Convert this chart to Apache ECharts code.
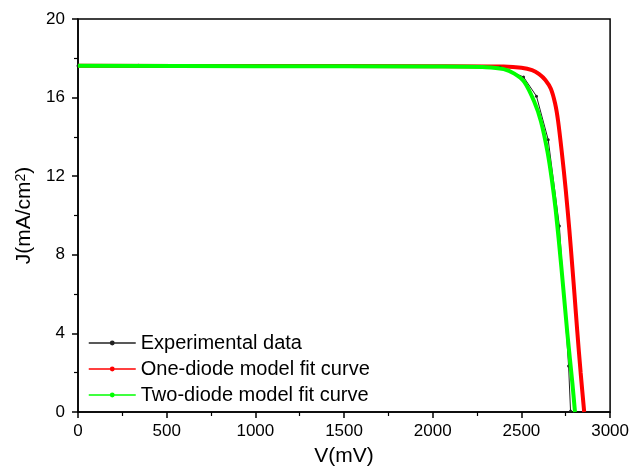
<!DOCTYPE html>
<html>
<head>
<meta charset="utf-8">
<script src="https://cdn.jsdelivr.net/npm/echarts@6/dist/echarts.min.js"></script>
<style>
html, body { margin: 0; padding: 0; background: #fff; }
#chart { width: 632px; height: 473px; }
</style>
</head>
<body>
<div id="chart"></div>
<script>
// series names
const seriesNames = ['Experimental data', 'One-diode model fit curve', 'Two-diode model fit curve'];

// [V (mV), J (mA/cm2)]
const expData = [
	[0, 17.62], [340, 17.64], [1020, 17.6], [1700, 17.58], [2380, 17.55],
	[2512, 17.05], [2585, 16.07], [2651, 13.86], [2714, 9.47], [2766, 2.34], [2777, 0.05]
];
const oneDiode = [
	[0, 17.62], [1000, 17.61], [2000, 17.6], [2400, 17.58], [2500, 17.52], [2560, 17.4],
	[2600, 17.2], [2635, 16.9], [2666, 16.45], [2690, 15.7], [2707, 14.8], [2728, 13.2],
	[2750, 11.3], [2770, 9.3], [2787, 7.4], [2800, 5.9], [2815, 4.1], [2834, 2.0], [2854, 0]
];
const twoDiode = [
	[0, 17.62], [1000, 17.6], [2000, 17.58], [2300, 17.55], [2400, 17.45], [2460, 17.22],
	[2516, 16.8], [2572, 15.8], [2610, 14.8], [2647, 13.25], [2672, 11.8], [2693, 10.3],
	[2725, 7.4], [2759, 4.0], [2787, 1.5], [2802, 0]
];

const font = '"Liberation Sans", Arial, sans-serif';

const chart = echarts.init(document.getElementById('chart'));
chart.setOption({
	animation: false,
	backgroundColor: '#fff',
	grid: {
		left: 78,
		right: 19,
		top: 19,
		bottom: 61,
		show: true,
		borderColor: '#000',
		borderWidth: 1.5
	},
	legend: {
		orient: 'vertical',
		left: 88,
		top: 333,
		padding: 0,
		itemWidth: 47,
		itemHeight: 6,
		itemGap: 6,
		data: seriesNames,
		textStyle: { fontFamily: font, fontSize: 20, color: '#000' },
		lineStyle: { width: 1.5 }
	},
	xAxis: {
		type: 'value',
		min: 0,
		max: 3000,
		interval: 500,
		name: 'V(mV)',
		nameLocation: 'middle',
		nameGap: 34,
		nameTextStyle: { fontFamily: font, fontSize: 21, color: '#000' },
		axisLine: { show: true, lineStyle: { color: '#000', width: 1.5 } },
		axisTick: { show: true, inside: false, length: 6, lineStyle: { color: '#000', width: 1.5 } },
		minorTick: { show: true, splitNumber: 2, length: 4, lineStyle: { color: '#000', width: 1.2 } },
		axisLabel: { fontFamily: font, fontSize: 17, color: '#000', margin: 11, formatter: v => String(v) },
		splitLine: { show: false }
	},
	yAxis: {
		type: 'value',
		min: 0,
		max: 20,
		interval: 4,
		name: 'J(mA/cm{sup|2})',
		nameLocation: 'middle',
		nameRotate: 90,
		nameGap: 33,
		nameTextStyle: {
			fontFamily: font, fontSize: 21, color: '#000',
			rich: { sup: { fontFamily: font, fontSize: 14, color: '#000', verticalAlign: 'top', padding: [0, 0, 8, 0] } }
		},
		axisLine: { show: true, lineStyle: { color: '#000', width: 1.5 } },
		axisTick: { show: true, inside: false, length: 6, lineStyle: { color: '#000', width: 1.5 } },
		minorTick: { show: true, splitNumber: 2, length: 4, lineStyle: { color: '#000', width: 1.2 } },
		axisLabel: { fontFamily: font, fontSize: 17, color: '#000', margin: 13 },
		splitLine: { show: false }
	},
	series: [
		{
			name: seriesNames[1],
			type: 'line',
			data: oneDiode,
			smooth: 0.3,
			color: '#ff0000',
			symbol: 'circle',
			symbolSize: 3,
			showSymbol: false,
			lineStyle: { width: 4 },
			z: 2
		},
		{
			name: seriesNames[0],
			type: 'line',
			data: expData,
			color: '#222',
			symbol: 'circle',
			symbolSize: 3,
			lineStyle: { width: 1 },
			z: 3
		},
		{
			name: seriesNames[2],
			type: 'line',
			data: twoDiode,
			smooth: 0.3,
			color: '#00ff00',
			symbol: 'circle',
			symbolSize: 3,
			showSymbol: false,
			lineStyle: { width: 4 },
			z: 4
		}
	]
});
</script>
</body>
</html>
